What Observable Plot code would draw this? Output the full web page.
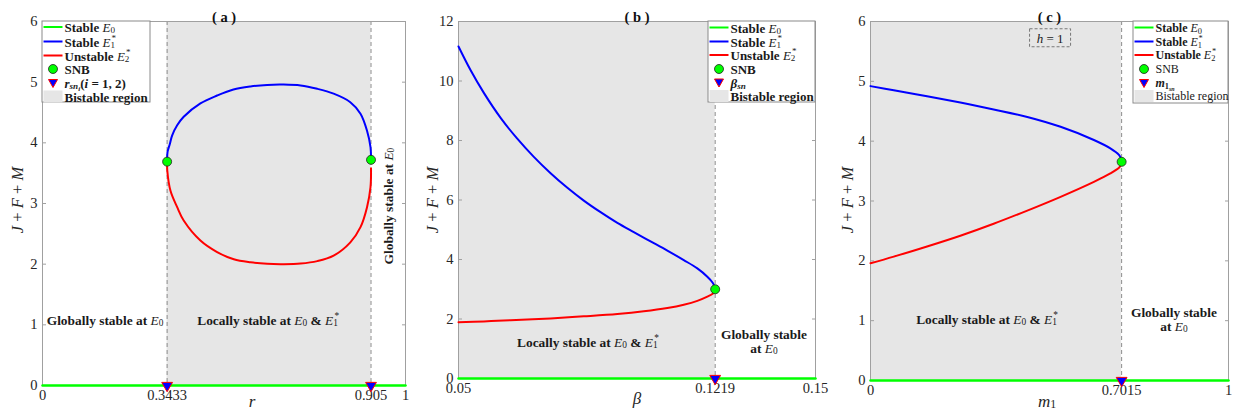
<!DOCTYPE html>
<html><head><meta charset="utf-8">
<script src="https://cdn.jsdelivr.net/npm/d3@7"></script>
<script src="https://cdn.jsdelivr.net/npm/@observablehq/plot@0.6"></script>
<style>
body{margin:0;background:#fff;}
#row{display:flex;width:1233px;height:411px;overflow:hidden;}
#row svg{display:block;flex:none;}
</style></head><body><div id="row"></div>
<script>
// ---------- Panel (a): bifurcation in r ----------
const aXTicks = [0, 0.3433, 0.905, 1];
const aYTicks = [0, 1, 2, 3, 4, 5, 6];
const aBlueX = [0.3433, 0.3445, 0.3508, 0.357, 0.371, 0.389, 0.435, 0.481, 0.526, 0.573, 0.619, 0.664, 0.711, 0.757, 0.802, 0.848, 0.876, 0.894, 0.9036, 0.905];
const aBlueY = [3.69, 3.85, 3.98, 4.12, 4.29, 4.43, 4.65, 4.78, 4.88, 4.93, 4.955, 4.96, 4.945, 4.89, 4.81, 4.67, 4.48, 4.20, 3.93, 3.72];
const aRedX = [0.3433, 0.3438, 0.3526, 0.371, 0.389, 0.435, 0.481, 0.527, 0.573, 0.619, 0.665, 0.711, 0.757, 0.802, 0.848, 0.876, 0.894, 0.9036, 0.905];
const aRedY = [3.69, 3.54, 3.21, 2.94, 2.72, 2.39, 2.20, 2.08, 2.03, 2.005, 2.0, 2.01, 2.05, 2.14, 2.36, 2.61, 2.94, 3.27, 3.58];
const aSnbX = [0.3433, 0.905];
const aSnbY = [3.69, 3.72];
const aCrit = [0.3433, 0.905];
const aBist = [0.3433, 0.905];

// ---------- Panel (b): bifurcation in beta ----------
const bXTicks = [0.05, 0.1219, 0.15];
const bYTicks = [0, 2, 4, 6, 8, 10, 12];
const bBlueX = [0.05, 0.0534, 0.0571, 0.0618, 0.0664, 0.0711, 0.0758, 0.0805, 0.0851, 0.0898, 0.0945, 0.0991, 0.1038, 0.1085, 0.1131, 0.1169, 0.1197, 0.1212, 0.1217, 0.1219];
const bBlueY = [11.16, 10.36, 9.60, 8.76, 8.07, 7.45, 6.90, 6.41, 5.98, 5.59, 5.23, 4.92, 4.61, 4.30, 3.98, 3.70, 3.42, 3.22, 3.10, 3.0];
const bRedX = [0.05, 0.0571, 0.0646, 0.0758, 0.0851, 0.0945, 0.1019, 0.1085, 0.1131, 0.1169, 0.1197, 0.1213, 0.1218, 0.1219];
const bRedY = [1.89, 1.92, 1.96, 2.02, 2.09, 2.17, 2.26, 2.37, 2.48, 2.61, 2.75, 2.86, 2.94, 3.0];
const bSnbX = [0.1219];
const bSnbY = [3.0];
const bCrit = [0.1219];
const bBist = [0.05, 0.1219];

// ---------- Panel (c): bifurcation in m1 ----------
const cXTicks = [0, 0.7015, 1];
const cYTicks = [0, 1, 2, 3, 4, 5, 6];
const cBlueX = [0, 0.065, 0.158, 0.251, 0.344, 0.438, 0.531, 0.624, 0.670, 0.694, 0.7005, 0.7015];
const cBlueY = [4.92, 4.85, 4.75, 4.645, 4.53, 4.405, 4.24, 4.02, 3.88, 3.77, 3.70, 3.655];
const cRedX = [0, 0.065, 0.158, 0.251, 0.344, 0.438, 0.531, 0.624, 0.670, 0.694, 0.7005, 0.7015];
const cRedY = [1.96, 2.07, 2.24, 2.42, 2.62, 2.84, 3.07, 3.32, 3.46, 3.555, 3.61, 3.655];
const cSnbX = [0.7015];
const cSnbY = [3.655];
const cCrit = [0.7015];
const cBist = [0, 0.7015];

const FONT = "'Liberation Serif','Times New Roman',serif";
const GREEN = "#00ff00", BLUE = "#0000ff", RED = "#ff0000", SHADE = "#e6e6e6";

const zip = (xs, ys) => xs.map((x, i) => ({x, y: ys[i]}));

// rich text with italic math, sub/superscripts
function rich(g, x, y, segs, {size = 13, weight = "bold", anchor = "start", rotate = 0, fill = "#1a1a1a"} = {}) {
  const t = g.append("text").attr("x", x).attr("y", y)
    .attr("text-anchor", anchor).attr("dominant-baseline", "central")
    .attr("font-family", FONT).attr("font-size", size).attr("font-weight", weight).attr("fill", fill);
  if (rotate) t.attr("transform", `rotate(${rotate},${x},${y})`);
  for (const s of segs) {
    const o = typeof s === "string" ? {t: s} : s;
    const ts = t.append("tspan").text(o.t);
    if (o.i) ts.attr("font-style", "italic");
    if (o.w) ts.attr("font-weight", o.w);
    if (o.sc) ts.attr("font-size", size * o.sc);
    if (o.sh) ts.attr("baseline-shift", o.sh);
    if (o.dx) ts.attr("dx", o.dx);
  }
  return t;
}
const E0 = [{t: "E", i: 1, w: "normal"}, {t: "0", sc: 0.7, sh: -3, w: "normal"}];
const E1s = [{t: "E", i: 1, w: "normal"}, {t: "1", sc: 0.7, sh: -3, w: "normal"}, {t: "*", sc: 0.7, sh: 4, dx: -3.5, w: "normal"}];
const E2s = [{t: "E", i: 1, w: "normal"}, {t: "2", sc: 0.7, sh: -3, w: "normal"}, {t: "*", sc: 0.7, sh: 4, dx: -3.5, w: "normal"}];

function legend(g, box, rows, items, size) {
  g.append("rect").attr("x", box[0]).attr("y", box[1]).attr("width", box[2]).attr("height", box[3])
    .attr("fill", "#fff").attr("stroke", "#8a8a8a").attr("stroke-width", 1);
  const x0 = box[0] + 1.5, x1 = x0 + 19, xm = (x0 + x1) / 2, tx = x1 + 2;
  items.forEach((it, k) => {
    const y = rows[k];
    if (it.kind === "line") g.append("line").attr("x1", x0).attr("x2", x1).attr("y1", y).attr("y2", y).attr("stroke", it.color).attr("stroke-width", 2);
    if (it.kind === "dot") g.append("circle").attr("cx", xm).attr("cy", y).attr("r", 4.5).attr("fill", GREEN).attr("stroke", "#222").attr("stroke-width", 0.8);
    if (it.kind === "tri") g.append("path").attr("d", `M${xm - 4.5},${y - 3.5}L${xm + 4.5},${y - 3.5}L${xm},${y + 4.5}Z`).attr("fill", BLUE).attr("stroke", RED).attr("stroke-width", 1);
    if (it.kind === "rect") g.append("rect").attr("x", x0).attr("y", y - 6).attr("width", 19).attr("height", 12).attr("fill", SHADE);
    rich(g, tx, y, it.segs, {size, weight: it.weight || "bold"});
  });
}

function panel(cfg) {
  const blue = zip(cfg.blueX, cfg.blueY), red = zip(cfg.redX, cfg.redY), snb = zip(cfg.snbX, cfg.snbY);
  const tri = cfg.crit.map(x => ({x, y: 0}));
  const zero = cfg.xDomain.map(x => ({x, y: 0}));
  const plot = Plot.plot({
    width: 411, height: 411,
    marginLeft: cfg.ml, marginRight: cfg.mr, marginTop: 21, marginBottom: cfg.mb,
    x: {domain: cfg.xDomain}, y: {domain: cfg.yDomain},
    style: {fontFamily: FONT, fontSize: "14.5px", color: "#262626", background: "transparent", overflow: "visible"},
    marks: [
      Plot.rect([{x1: cfg.bist[0], x2: cfg.bist[1]}], {x1: "x1", x2: "x2", fill: SHADE}),
      Plot.ruleX(cfg.crit, {stroke: "#8c8c8c", strokeWidth: 1, strokeDasharray: "4,3"}),
      Plot.frame({stroke: "#a0a0a0", strokeWidth: 1}),
      Plot.axisX({ticks: cfg.xTicks, tickSize: 0, tickPadding: 4, tickFormat: d => String(d), label: null}),
      Plot.axisY({ticks: cfg.yTicks, tickSize: 0, tickPadding: 5, tickFormat: d => String(d), label: null}),
      Plot.axisY({anchor: "left", ticks: cfg.yTicks, tickSize: 4, dx: 4, tickFormat: () => null, label: null, stroke: "#a0a0a0"}),
      Plot.axisY({anchor: "right", ticks: cfg.yTicks, tickSize: 4, dx: -4, tickFormat: () => null, label: null, stroke: "#a0a0a0"}),
      Plot.line(zero, {x: "x", y: "y", stroke: GREEN, strokeWidth: 2.5}),
      Plot.line(blue, {x: "x", y: "y", stroke: BLUE, strokeWidth: 2, curve: "catmull-rom"}),
      Plot.line(red, {x: "x", y: "y", stroke: RED, strokeWidth: 2, curve: "catmull-rom"}),
      Plot.dot(tri, {x: "x", y: "y", symbol: "triangle", rotate: 180, r: 4, fill: BLUE, stroke: RED, strokeWidth: 1}),
      Plot.dot(snb, {x: "x", y: "y", r: 4.5, fill: GREEN, stroke: "#222", strokeWidth: 0.8}),
      Plot.text([cfg.title], {text: d => d, frameAnchor: "top", dy: -10, fontWeight: "bold", fontSize: 14.5, fill: "#111"})
    ]
  });
  document.getElementById("row").appendChild(plot);
  const sx = plot.scale("x"), sy = plot.scale("y");
  const g = d3.select(plot).append("g");
  // axis labels
  rich(g, cfg.ylab[0], cfg.ylab[1], [{t: "J", i: 1}, " + ", {t: "F", i: 1}, " + ", {t: "M", i: 1}], {size: 16.5, weight: "normal", anchor: "middle", rotate: -90, fill: "#262626"});
  rich(g, cfg.xlab[0], cfg.xlab[1], cfg.xlabSegs, {size: 17, weight: "normal", anchor: "middle", fill: "#262626"});
  // annotations
  for (const a of cfg.notes) {
    rich(g, sx.apply(a.x), sy.apply(a.y), a.segs, {size: 13.4, anchor: a.anchor || "middle", rotate: a.rotate || 0});
  }
  if (cfg.after) cfg.after(g, sx, sy);
  legend(g, cfg.legBox, cfg.legRows, cfg.legItems, cfg.legSize || 13);
}

const baseItems = [
  {kind: "line", color: GREEN, segs: ["Stable ", ...E0]},
  {kind: "line", color: BLUE, segs: ["Stable ", ...E1s]},
  {kind: "line", color: RED, segs: ["Unstable ", ...E2s]}
];
const locally = ["Locally stable at ", ...E0, " & ", ...E1s];

panel({
  title: "( a )", xDomain: [0, 1], yDomain: [0, 6], xTicks: aXTicks, yTicks: aYTicks,
  ml: 42, mr: 6, mb: 26,
  blueX: aBlueX, blueY: aBlueY, redX: aRedX, redY: aRedY, snbX: aSnbX, snbY: aSnbY, crit: aCrit, bist: aBist,
  ylab: [17, 200], xlab: [252, 401], xlabSegs: [{t: "r", i: 1}],
  notes: [
    {x: 0.013, y: 1.07, anchor: "start", segs: ["Globally stable at ", ...E0]},
    {x: 0.623, y: 1.07, segs: locally},
    {x: 0.953, y: 2.95, rotate: -90, segs: ["Globally stable at ", ...E0]}
  ],
  legBox: [42, 21, 108, 81], legRows: [27, 41.5, 55.5, 69, 83, 96.5],
  legItems: [...baseItems,
    {kind: "dot", segs: ["SNB"]},
    {kind: "tri", segs: [{t: "r", i: 1}, {t: "sn", i: 1, sc: 0.7, sh: -3}, {t: "i", i: 1, sc: 0.55, sh: -6}, "(", {t: "i", i: 1}, " = 1, 2)"]},
    {kind: "rect", segs: ["Bistable region"]}]
});

panel({
  title: "( b )", xDomain: [0.05, 0.15], yDomain: [0, 12], xTicks: bXTicks, yTicks: bYTicks,
  ml: 47, mr: 7, mb: 33,
  blueX: bBlueX, blueY: bBlueY, redX: bRedX, redY: bRedY, snbX: bSnbX, snbY: bSnbY, crit: bCrit, bist: bBist,
  ylab: [21, 200], xlab: [226, 398], xlabSegs: [{t: "β", i: 1}],
  notes: [
    {x: 0.0864, y: 1.21, segs: locally},
    {x: 0.1357, y: 1.48, segs: ["Globally stable"]},
    {x: 0.1357, y: 1.0, segs: ["at ", ...E0]}
  ],
  legBox: [297, 21, 107, 81], legRows: [27.5, 41.5, 55, 69, 82.5, 96],
  legItems: [...baseItems,
    {kind: "dot", segs: ["SNB"]},
    {kind: "tri", segs: [{t: "β", i: 1}, {t: "sn", i: 1, sc: 0.7, sh: -3}]},
    {kind: "rect", segs: ["Bistable region"]}]
});

panel({
  title: "( c )", xDomain: [0, 1], yDomain: [0, 6], xTicks: cXTicks, yTicks: cYTicks,
  ml: 48, mr: 5, mb: 31,
  blueX: cBlueX, blueY: cBlueY, redX: cRedX, redY: cRedY, snbX: cSnbX, snbY: cSnbY, crit: cCrit, bist: cBist,
  ylab: [25, 200], xlab: [225, 401], xlabSegs: [{t: "m", i: 1}, {t: "1", sc: 0.7, sh: -3}],
  notes: [
    {x: 0.327, y: 1.02, segs: locally},
    {x: 0.849, y: 1.13, segs: ["Globally stable"]},
    {x: 0.849, y: 0.9, segs: ["at ", ...E0]}
  ],
  after: (g, sx, sy) => {
    const cx = sx.apply(0.503), cy = sy.apply(5.72);
    g.append("rect").attr("x", cx - 20.5).attr("y", cy - 9).attr("width", 41).attr("height", 18)
      .attr("fill", "none").attr("stroke", "#777").attr("stroke-dasharray", "3,2");
    rich(g, cx, cy, [{t: "h", i: 1}, " = 1"], {size: 13, weight: "normal", anchor: "middle"});
  },
  legSize: 12,
  legBox: [311, 21, 95, 82], legRows: [27.5, 41.5, 55, 69, 83, 96],
  legItems: [...baseItems,
    {kind: "dot", segs: ["SNB"], weight: "normal"},
    {kind: "tri", segs: [{t: "m", i: 1, w: "bold"}, {t: "1", sc: 0.7, sh: -3}, {t: "sn", i: 1, sc: 0.5, sh: -6}]},
    {kind: "rect", segs: ["Bistable region"], weight: "normal"}]
});
</script></body></html>
